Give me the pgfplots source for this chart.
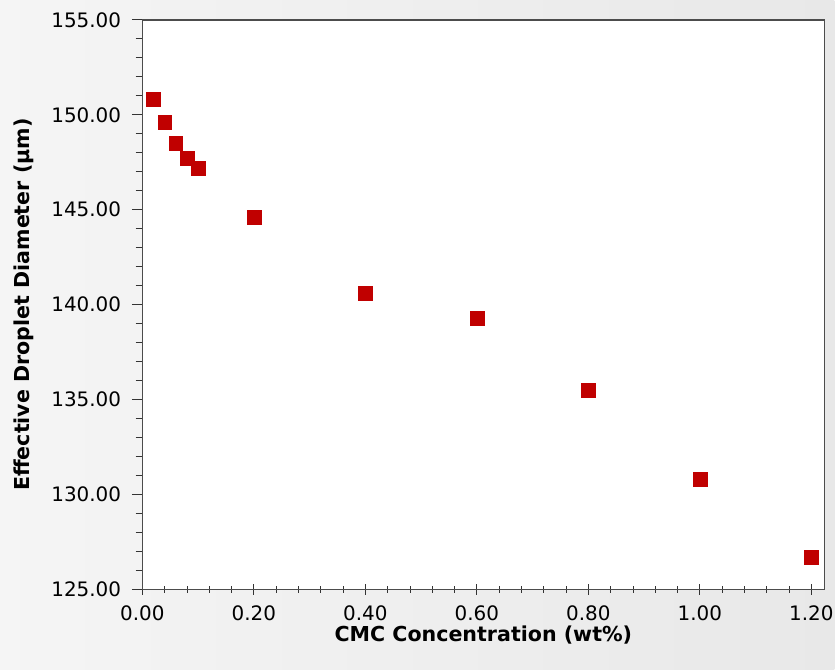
\documentclass[border=0pt]{standalone}
\usepackage{pgfplots}
\pgfplotsset{compat=1.18}
\usepackage{fontspec}
\setmainfont{DejaVu Sans}
\definecolor{dotred}{HTML}{C00000}
\begin{document}
\begin{tikzpicture}[x=1pt,y=1pt]
% page background, 838x672 px at 0.75pt per px
\shade[left color=white!92!gray, right color=white!82!gray] (0,0) rectangle (628.5,504);
\begin{axis}[
    at={(107.25pt,60pt)}, anchor=south west,
    scale only axis,
    width=513.75pt, height=429pt,
    xmin=0, xmax=1.2232, ymin=125, ymax=155,
    axis background/.style={fill=white},
    axis line style={black!70, line width=0.9pt},
    xtick={0,0.2,...,1.2}, ytick={125,130,...,155},
    minor x tick num=4, minor y tick num=4,
    tick style={black!80, line width=0.7pt},
    major tick length=8pt, minor tick length=5pt,
    xtick pos=bottom, ytick pos=left,
    ytick align=outside, xtick align=center,
    xticklabel style={yshift=-5pt, /pgf/number format/.cd, fixed, fixed zerofill, precision=2},
    yticklabel style={xshift=-4.5pt, /pgf/number format/.cd, fixed, fixed zerofill, precision=2},
    /pgf/number format/assume math mode=true,
    ticklabel style={font=\fontsize{15}{18}\selectfont},
    xlabel={\textbf{CMC Concentration (wt\%)}},
    ylabel={\textbf{Effective Droplet Diameter (µm)}},
    label style={font=\fontsize{15.5}{18}\selectfont},
    xlabel style={yshift=3pt},
    ylabel style={yshift=6.5pt},
    clip=false,
]
\addplot[only marks, mark=square*, mark size=5.2pt, color=dotred] coordinates {
    (0.02,150.8) (0.04,149.6) (0.06,148.5) (0.08,147.7) (0.10,147.2)
    (0.2,144.6) (0.4,140.6) (0.6,139.3) (0.8,135.5) (1.0,130.8) (1.2,126.7)
};
\end{axis}
\end{tikzpicture}
\end{document}
